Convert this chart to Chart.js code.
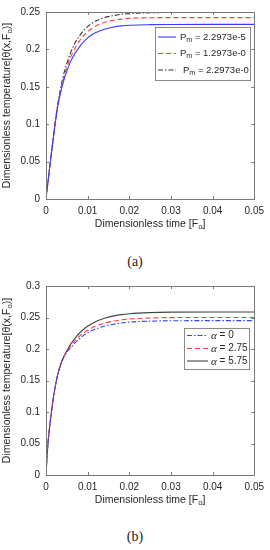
<!DOCTYPE html>
<html><head><meta charset="utf-8">
<script src="https://cdn.jsdelivr.net/npm/chart.js@4/dist/chart.umd.min.js"></script>
<style>
html,body{margin:0;padding:0;background:#fff;width:270px;height:550px;overflow:hidden;}
.wrap{position:absolute;left:0;width:270px;height:245px;}
.cap{position:absolute;left:0;width:270px;text-align:center;font-family:'Liberation Serif','DejaVu Serif',serif;font-size:14px;color:#222;}
</style></head><body>
<div class="wrap" style="top:0"><canvas id="ca" width="270" height="245"></canvas></div>
<div class="cap" style="top:254px">(a)</div>
<div class="wrap" style="top:270px"><canvas id="cb" width="270" height="245"></canvas></div>
<div class="cap" style="top:529px">(b)</div>
<script>
// ---- data ----
const times = [0,0.00025,0.0005,0.001,0.0015,0.002,0.0025,0.003,0.0035,0.004,0.0045,0.005,0.006,0.007,0.008,0.009,0.01,0.011,0.012,0.013,0.014,0.016,0.018,0.02,0.025,0.03,0.04,0.05];
// chart (a)
const pmLabels = ['2.2973e-5','1.2973e-0','2.2973e-0'];
const pmA1 = [0,0.012,0.024,0.0475,0.07,0.092,0.112,0.129,0.142,0.153,0.1625,0.171,0.185,0.195,0.203,0.21,0.2155,0.2195,0.2225,0.225,0.227,0.2297,0.2314,0.2323,0.2331,0.2333,0.2334,0.2334];
const pmA2 = [0,0.012,0.024,0.0475,0.07,0.093,0.113,0.131,0.145,0.157,0.167,0.176,0.191,0.202,0.211,0.218,0.2235,0.228,0.2314,0.234,0.236,0.2388,0.2405,0.2415,0.2423,0.2425,0.2425,0.2425];
const pmA3 = [0,0.0122,0.0245,0.048,0.071,0.094,0.115,0.133,0.148,0.161,0.172,0.181,0.197,0.209,0.218,0.225,0.2305,0.235,0.238,0.2405,0.2425,0.245,0.2468,0.248,0.249,0.2494,0.2495,0.2495];
// chart (b)
const alphaLabels = ['0','2.75','5.75'];
const alB1 = [0,0.03,0.052,0.084,0.11,0.132,0.15,0.164,0.1745,0.183,0.1895,0.195,0.2025,0.21,0.2163,0.2215,0.2257,0.2292,0.232,0.2343,0.2362,0.239,0.2412,0.2427,0.2442,0.2448,0.245,0.245];
const alB2 = [0,0.03,0.052,0.084,0.11,0.132,0.15,0.164,0.175,0.1835,0.1905,0.196,0.2055,0.2135,0.22,0.2255,0.2298,0.2335,0.2365,0.239,0.241,0.244,0.2462,0.2476,0.2492,0.2498,0.25,0.25];
const alB3 = [0,0.03,0.052,0.084,0.11,0.132,0.15,0.164,0.175,0.184,0.191,0.197,0.2085,0.2175,0.225,0.231,0.236,0.2402,0.2436,0.2465,0.2488,0.2522,0.2545,0.256,0.2578,0.2585,0.2588,0.2588];
// tick labels
const xTickLabels = ['0','0.01','0.02','0.03','0.04','0.05'];
const yTickLabelsA = ['0','0.05','0.1','0.15','0.2','0.25'];
const yTickLabelsB = ['0','0.05','0.1','0.15','0.2','0.25','0.3'];
const xTitle = [{t:'Dimensionless time [F'},{t:'o',sub:true},{t:']'}];
const yTitle = [{t:'Dimensionless temperature[\u03B8(x,F'},{t:'o',sub:true},{t:')]'}];

const FONT = "'Liberation Sans', Arial, sans-serif";
const AX = '#7a7a7a';
const TXT = '#262626';

function pts(ys){ return times.map((t,i)=>({x:t,y:ys[i]})); }

function drawSeg(ctx, segs, x, y, align, size){
  size = size || 10;
  const big = size+'px '+FONT, small = (size*0.75)+'px '+FONT;
  let w = 0;
  segs.forEach(s=>{ ctx.font = s.sub?small:big; w += ctx.measureText(s.t).width; });
  let cx = align==='center' ? x - w/2 : x;
  ctx.textBaseline = 'middle'; ctx.textAlign='left';
  segs.forEach(s=>{ ctx.font = s.sub?small:big; ctx.fillText(s.t, cx, y + (s.sub?3:0)); cx += ctx.measureText(s.t).width; });
}

function framePlugin(opts){
  return {
    id:'frame'+opts.key,
    afterDraw(chart){
      const ctx = chart.ctx, a = chart.chartArea;
      const xs = chart.scales.x, ys = chart.scales.y;
      ctx.save();
      ctx.strokeStyle = AX; ctx.lineWidth = 1;
      ctx.strokeRect(Math.round(a.left)+0.5, Math.round(a.top)+0.5, Math.round(a.right-a.left), Math.round(a.bottom-a.top));
      ctx.beginPath();
      xs.ticks.forEach(t=>{ const px = Math.round(xs.getPixelForValue(t.value))+0.5;
        ctx.moveTo(px,a.bottom); ctx.lineTo(px,a.bottom-3); ctx.moveTo(px,a.top); ctx.lineTo(px,a.top+3); });
      ys.ticks.forEach(t=>{ const py = Math.round(ys.getPixelForValue(t.value))+0.5;
        ctx.moveTo(a.left,py); ctx.lineTo(a.left+3,py); ctx.moveTo(a.right,py); ctx.lineTo(a.right-3,py); });
      ctx.stroke();
      ctx.fillStyle = TXT;
      drawSeg(ctx, xTitle, (a.left+a.right)/2, a.bottom+25, 'center', 10.5);
      ctx.save();
      ctx.translate(8, (a.top+a.bottom)/2);
      ctx.rotate(-Math.PI/2);
      drawSeg(ctx, yTitle, 0, -1, 'center', 10.5);
      ctx.restore();
      const L = opts.legend;
      ctx.fillStyle = '#fff';
      ctx.fillRect(L.x, L.y, L.w, L.h);
      ctx.strokeStyle = '#8a8a8a';
      ctx.strokeRect(L.x+0.5, L.y+0.5, L.w, L.h);
      chart.data.datasets.forEach((ds,i)=>{
        const ry = L.rows[i];
        ctx.strokeStyle = ds.borderColor; ctx.lineWidth = ds.borderWidth;
        ctx.setLineDash(ds.borderDash||[]);
        ctx.beginPath(); ctx.moveTo(L.sx0, ry); ctx.lineTo(L.sx1, ry); ctx.stroke();
        ctx.setLineDash([]);
        ctx.fillStyle = TXT;
        if (opts.key==='a'){
          drawSeg(ctx, [{t:'P'},{t:'m',sub:true},{t:' = '+pmLabels[i]}], L.tx + (i===2?3:0), ry, 'left', 9.5);
        } else {
          ctx.font = "italic 11px 'Liberation Serif', 'DejaVu Serif', serif";
          ctx.textBaseline='middle'; ctx.textAlign='left';
          ctx.fillText('\u03B1', L.tx, ry+1);
          const w = ctx.measureText('\u03B1').width;
          ctx.font = '10px '+FONT;
          ctx.fillText(' = '+alphaLabels[i], L.tx+w, ry);
        }
      });
      ctx.restore();
    }
  };
}

function makeChart(id, key, sets, yMax, yLabels, padTop, xH, legend){
  return new Chart(document.getElementById(id), {
    type:'line',
    data:{datasets: sets.map(s=>({label:s.label, data:pts(s.d), borderColor:s.c, borderWidth:1.1,
      borderDash:s.dash, pointRadius:0, fill:false, cubicInterpolationMode:'monotone'}))},
    options:{
      responsive:false, animation:false, events:[],
      layout:{padding:{top:padTop,right:14,left:0,bottom:0}},
      plugins:{legend:{display:false}, tooltip:{enabled:false}},
      scales:{
        x:{type:'linear', min:0, max:0.05,
          grid:{display:false, drawTicks:false}, border:{display:false},
          ticks:{stepSize:0.01, padding:6, color:TXT, font:{family:FONT,size:10}, maxRotation:0,
            callback:(v,i)=>xTickLabels[i]},
          afterFit:s=>{s.height = xH;}},
        y:{type:'linear', min:0, max:yMax,
          grid:{display:false, drawTicks:false}, border:{display:false},
          ticks:{stepSize:0.05, padding:6, color:TXT, font:{family:FONT,size:10},
            callback:(v,i)=>yLabels[i]},
          afterFit:s=>{s.width = 46;}}
      }
    },
    plugins:[framePlugin({key, legend})]
  });
}

makeChart('ca','a',[
  {label:'Pm = '+pmLabels[0], d:pmA1, c:'#3c3cff', dash:[]},
  {label:'Pm = '+pmLabels[1], d:pmA2, c:'#ff3b3b', dash:[5,3]},
  {label:'Pm = '+pmLabels[2], d:pmA3, c:'#333333', dash:[5,2,1.5,2]}
], 0.25, yTickLabelsA, 8, 46,
 {x:155,y:27,w:95,h:53,rows:[37,53.5,70],sx0:158,sx1:176,tx:180});

makeChart('cb','b',[
  {label:'\u03B1 = '+alphaLabels[0], d:alB1, c:'#3c3cff', dash:[5,2,1.5,2]},
  {label:'\u03B1 = '+alphaLabels[1], d:alB2, c:'#ff3b3b', dash:[5,3]},
  {label:'\u03B1 = '+alphaLabels[2], d:alB3, c:'#444444', dash:[]}
], 0.3, yTickLabelsB, 16, 40,
 {x:184,y:58,w:65,h:41,rows:[65.5,78.5,91],sx0:187,sx1:208,tx:211});
</script>
</body></html>
